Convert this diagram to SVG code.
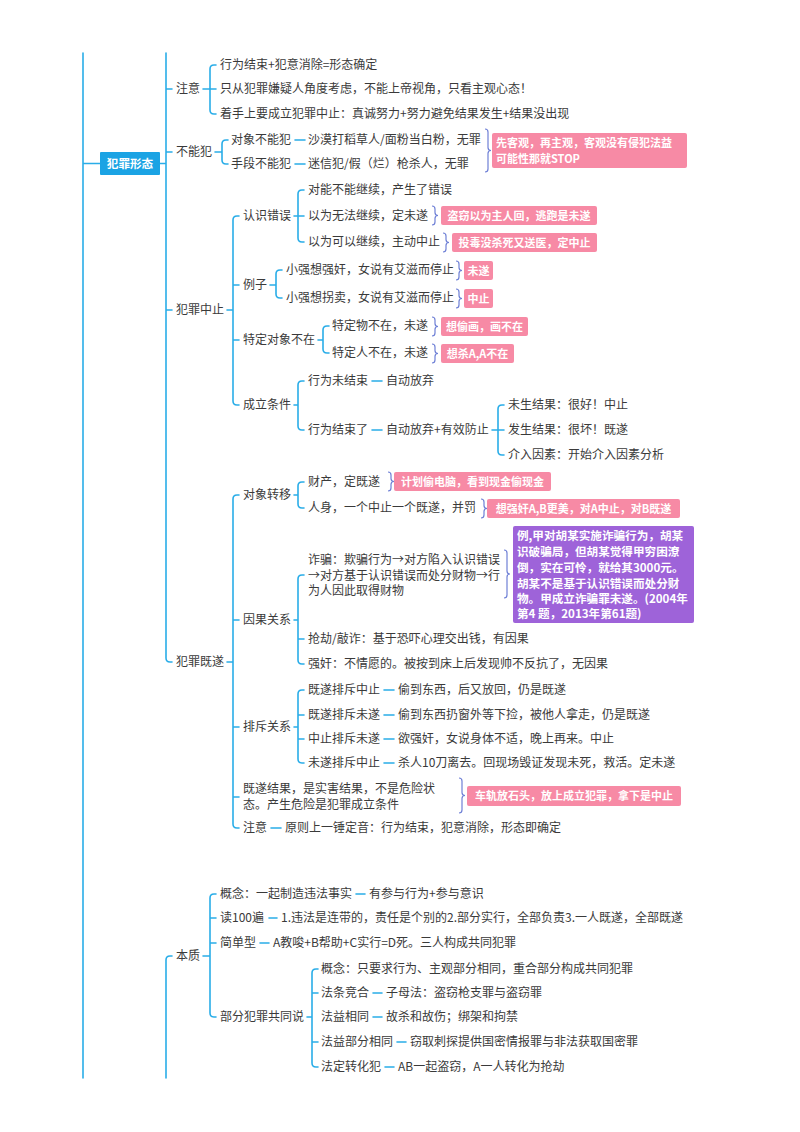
<svg xmlns="http://www.w3.org/2000/svg" width="800" height="1132" viewBox="0 0 800 1132">
<style>
.t{font-family:"Noto Sans CJK SC","Noto Sans",sans-serif;font-size:12px;fill:#3a3a3a}
.w{font-family:"Noto Sans CJK SC","Noto Sans",sans-serif;font-size:11px;font-weight:bold;fill:#fff}
.wv{font-family:"Noto Sans CJK SC","Noto Sans",sans-serif;font-size:11.6px;font-weight:bold;fill:#fff}
.c{fill:none;stroke:#2AADE8;stroke-width:1.6;stroke-linecap:round}
.b{fill:none;stroke:#6F80D6;stroke-width:1.2}
.p{fill:#F78AA5}
.v{fill:#9E63D9}
</style>
<rect width="800" height="1132" fill="#fff"/>
<g id="connectors">
<path class="c" d="M83,53V1078 M83,163.5H100"/>
<path class="c" d="M160,163.5H166 M166,53V658Q166,662 170,662H172 M166,89H172 M166,152H172 M166,310H172"/>
<path class="c" d="M203,89H210 M216,65H214Q210,65 210,69V110Q210,114 214,114H216 M210,89H216"/>
<path class="c" d="M215,152H222 M228,140H226Q222,140 222,144V160Q222,164 226,164H228 M295,140H305 M295,164H305"/>
<path class="c" d="M227,310H233 M239,216H237Q233,216 233,220V401Q233,405 237,405H239 M233,285H239 M233,340H239"/>
<path class="c" d="M294,216H298 M304,190H302Q298,190 298,194V238Q298,242 302,242H304 M298,216H304"/>
<path class="c" d="M270,285H276 M282,270H280Q276,270 276,274V294Q276,298 280,298H282"/>
<path class="c" d="M318,340H323 M329,326H327Q323,326 323,330V349Q323,353 327,353H329"/>
<path class="c" d="M294,405H298 M304,381H302Q298,381 298,385V426Q298,430 302,430H304 M372,381H382 M372,430H382"/>
<path class="c" d="M492,430H498 M504,405H502Q498,405 498,409V451Q498,455 502,455H504 M498,430H504"/>
<path class="c" d="M227,662H233 M239,495H237Q233,495 233,499V824Q233,828 237,828H239 M233,620H239 M233,727H239 M233,797H239"/>
<path class="c" d="M294,495H298 M304,482H302Q298,482 298,486V504Q298,508 302,508H304"/>
<path class="c" d="M294,620H298 M304,575H302Q298,575 298,579V660Q298,664 302,664H304 M298,639H304"/>
<path class="c" d="M294,727H298 M304,690H302Q298,690 298,694V759Q298,763 302,763H304 M298,715H304 M298,739H304 M384,690H394 M384,715H394 M384,739H394 M384,763H394"/>
<path class="c" d="M271,828H281"/>
<path class="c" d="M172,956H170Q166,956 166,960V1078"/>
<path class="c" d="M203,956H210 M216,894H214Q210,894 210,898V1013Q210,1017 214,1017H216 M210,918H216 M210,943H216 M356,894H365 M269,918H277 M260,943H269"/>
<path class="c" d="M307,1017H312 M318,969H316Q312,969 312,973V1063Q312,1067 316,1067H318 M312,993H318 M312,1042H318 M373,993H382 M373,1017H382 M397,1042H406 M385,1067H394"/>
<path class="b" d="M485,129Q488,129 488,132V147.5Q488,150.5 491,150.5Q488,150.5 488,153.5V169Q488,172 485,172"/>
<path class="b" d="M432,206Q435,206 435,209V212.5Q435,215.5 438,215.5Q435,215.5 435,218.5V222Q435,225 432,225"/>
<path class="b" d="M443,233Q446,233 446,236V239.5Q446,242.5 449,242.5Q446,242.5 446,245.5V249Q446,252 443,252"/>
<path class="b" d="M456,261Q459,261 459,264V267.5Q459,270.5 462,270.5Q459,270.5 459,273.5V277Q459,280 456,280"/>
<path class="b" d="M456,289Q459,289 459,292V295.5Q459,298.5 462,298.5Q459,298.5 459,301.5V305Q459,308 456,308"/>
<path class="b" d="M432,317Q435,317 435,320V323.5Q435,326.5 438,326.5Q435,326.5 435,329.5V333Q435,336 432,336"/>
<path class="b" d="M432,344Q435,344 435,347V350.5Q435,353.5 438,353.5Q435,353.5 435,356.5V360Q435,363 432,363"/>
<path class="b" d="M388,472Q391,472 391,475V478.5Q391,481.5 394,481.5Q391,481.5 391,484.5V488Q391,491 388,491"/>
<path class="b" d="M481,499Q484,499 484,502V505.5Q484,508.5 487,508.5Q484,508.5 484,511.5V515Q484,518 481,518"/>
<path class="b" d="M504,550Q507,550 507,553V571Q507,574 510,574Q507,574 507,577V595Q507,598 504,598"/>
<path class="b" d="M459,778Q462,778 462,781V792.5Q462,795.5 465,795.5Q462,795.5 462,798.5V810Q462,813 459,813"/>
</g>
<g id="root"><rect x="100" y="152" width="60" height="23" rx="1" fill="#1BA3E4"/><text class="wv" x="130" y="168" text-anchor="middle">犯罪形态</text></g>
<g id="n-zhuyi"><text class="t" x="176" y="93">注意</text></g>
<g id="n-zy1"><text class="t" x="220" y="69">行为结束+犯意消除=形态确定</text></g>
<g id="n-zy2"><text class="t" x="220" y="93">只从犯罪嫌疑人角度考虑，不能上帝视角，只看主观心态！</text></g>
<g id="n-zy3"><text class="t" x="220" y="118">着手上要成立犯罪中止：真诚努力+努力避免结果发生+结果没出现</text></g>
<g id="n-bnf"><text class="t" x="176" y="156">不能犯</text></g>
<g id="n-dx"><text class="t" x="231" y="144">对象不能犯</text></g>
<g id="n-dx2"><text class="t" x="308" y="144">沙漠打稻草人/面粉当白粉，无罪</text></g>
<g id="n-sd"><text class="t" x="231" y="168">手段不能犯</text></g>
<g id="n-sd2"><text class="t" x="308" y="168">迷信犯/假（烂）枪杀人，无罪</text></g>
<g id="note-stop"><rect class="p" x="492" y="133" width="195" height="35" rx="2"/><text class="w" x="496" y="147">先客观，再主观，客观没有侵犯法益</text><text class="w" x="496" y="163">可能性那就STOP</text></g>
<g id="n-zz"><text class="t" x="176" y="314">犯罪中止</text></g>
<g id="n-rscw"><text class="t" x="243" y="220">认识错误</text></g>
<g id="n-rs1"><text class="t" x="308" y="194">对能不能继续，产生了错误</text></g>
<g id="n-rs2"><text class="t" x="308" y="220">以为无法继续，定未遂</text></g>
<g id="note-rs2"><rect class="p" x="441" y="206" width="156" height="19" rx="2"/><text class="w" x="519" y="219.5" text-anchor="middle">盗窃以为主人回，逃跑是未遂</text></g>
<g id="n-rs3"><text class="t" x="308" y="246">以为可以继续，主动中止</text></g>
<g id="note-rs3"><rect class="p" x="452" y="233" width="145" height="19" rx="2"/><text class="w" x="524.5" y="246.5" text-anchor="middle">投毒没杀死又送医，定中止</text></g>
<g id="n-lz"><text class="t" x="243" y="289">例子</text></g>
<g id="n-lz1"><text class="t" x="286" y="274">小强想强奸，女说有艾滋而停止</text></g>
<g id="note-lz1"><rect class="p" x="464" y="261" width="29" height="19" rx="2"/><text class="w" x="478.5" y="274.5" text-anchor="middle">未遂</text></g>
<g id="n-lz2"><text class="t" x="286" y="302">小强想拐卖，女说有艾滋而停止</text></g>
<g id="note-lz2"><rect class="p" x="464" y="289" width="29" height="19" rx="2"/><text class="w" x="478.5" y="302.5" text-anchor="middle">中止</text></g>
<g id="n-tdbz"><text class="t" x="243" y="344">特定对象不在</text></g>
<g id="n-td1"><text class="t" x="332" y="330">特定物不在，未遂</text></g>
<g id="note-td1"><rect class="p" x="441" y="317" width="87" height="19" rx="2"/><text class="w" x="484.5" y="330.5" text-anchor="middle">想偷画，画不在</text></g>
<g id="n-td2"><text class="t" x="332" y="357">特定人不在，未遂</text></g>
<g id="note-td2"><rect class="p" x="441" y="344" width="73" height="19" rx="2"/><text class="w" x="477.5" y="357.5" text-anchor="middle">想杀A,A不在</text></g>
<g id="n-cltj"><text class="t" x="243" y="409">成立条件</text></g>
<g id="n-wjs"><text class="t" x="308" y="385">行为未结束</text></g>
<g id="n-wjs2"><text class="t" x="386" y="385">自动放弃</text></g>
<g id="n-js"><text class="t" x="308" y="434">行为结束了</text></g>
<g id="n-js2"><text class="t" x="386" y="434">自动放弃+有效防止</text></g>
<g id="n-js3"><text class="t" x="508" y="409">未生结果：很好！中止</text></g>
<g id="n-js4"><text class="t" x="508" y="434">发生结果：很坏！既遂</text></g>
<g id="n-js5"><text class="t" x="508" y="459">介入因素：开始介入因素分析</text></g>
<g id="n-jisui"><text class="t" x="176" y="666">犯罪既遂</text></g>
<g id="n-dxzy"><text class="t" x="243" y="499">对象转移</text></g>
<g id="n-cc"><text class="t" x="308" y="486">财产，定既遂</text></g>
<g id="note-cc"><rect class="p" x="394" y="472" width="157" height="19" rx="2"/><text class="w" x="472.5" y="485.5" text-anchor="middle">计划偷电脑，看到现金偷现金</text></g>
<g id="n-rsh"><text class="t" x="308" y="512">人身，一个中止一个既遂，并罚</text></g>
<g id="note-rsh"><rect class="p" x="487" y="499" width="193" height="19" rx="2"/><text class="w" x="583.5" y="512.5" text-anchor="middle">想强奸A,B更美，对A中止，对B既遂</text></g>
<g id="n-ygh"><text class="t" x="243" y="624">因果关系</text></g>
<g id="n-zp"><text class="t" x="308" y="564">诈骗：欺骗行为→对方陷入认识错误</text><text class="t" x="308" y="580">→对方基于认识错误而处分财物→行</text><text class="t" x="308" y="595">为人因此取得财物</text></g>
<g id="note-zp"><rect class="v" x="513" y="526" width="181" height="97" rx="2"/><text class="wv" x="517" y="539.5">例,甲对胡某实施诈骗行为，胡某</text><text class="wv" x="517" y="555.5">识破骗局，但胡某觉得甲穷困潦</text><text class="wv" x="517" y="571.5">倒，实在可怜，就给其3000元。</text><text class="wv" x="517" y="587.5">胡某不是基于认识错误而处分财</text><text class="wv" x="517" y="603">物。甲成立诈骗罪未遂。(2004年</text><text class="wv" x="517" y="618">第4 题，2013年第61题)</text></g>
<g id="n-qj"><text class="t" x="308" y="643">抢劫/敲诈：基于恐吓心理交出钱，有因果</text></g>
<g id="n-qjian"><text class="t" x="308" y="668">强奸：不情愿的。被按到床上后发现帅不反抗了，无因果</text></g>
<g id="n-pc"><text class="t" x="243" y="731">排斥关系</text></g>
<g id="n-pc1"><text class="t" x="308" y="694">既遂排斥中止</text><text class="t" x="398" y="694">偷到东西，后又放回，仍是既遂</text></g>
<g id="n-pc2"><text class="t" x="308" y="719">既遂排斥未遂</text><text class="t" x="398" y="719">偷到东西扔窗外等下捡，被他人拿走，仍是既遂</text></g>
<g id="n-pc3"><text class="t" x="308" y="743">中止排斥未遂</text><text class="t" x="398" y="743">欲强奸，女说身体不适，晚上再来。中止</text></g>
<g id="n-pc4"><text class="t" x="308" y="767">未遂排斥中止</text><text class="t" x="398" y="767">杀人10刀离去。回现场毁证发现未死，救活。定未遂</text></g>
<g id="n-jsjg"><text class="t" x="243" y="793">既遂结果，是实害结果，不是危险状</text><text class="t" x="243" y="809">态。产生危险是犯罪成立条件</text></g>
<g id="note-jsjg"><rect class="p" x="467" y="786" width="214" height="20" rx="2"/><text class="w" x="574" y="800" text-anchor="middle">车轨放石头，放上成立犯罪，拿下是中止</text></g>
<g id="n-zy-b"><text class="t" x="243" y="832">注意</text><text class="t" x="285" y="832">原则上一锤定音：行为结束，犯意消除，形态即确定</text></g>
<g id="n-bz"><text class="t" x="176" y="960">本质</text></g>
<g id="n-bz1"><text class="t" x="220" y="898">概念：一起制造违法事实</text><text class="t" x="369" y="898">有参与行为+参与意识</text></g>
<g id="n-bz2"><text class="t" x="220" y="922">读100遍</text><text class="t" x="281" y="922">1.违法是连带的，责任是个别的2.部分实行，全部负责3.一人既遂，全部既遂</text></g>
<g id="n-bz3"><text class="t" x="220" y="947">简单型</text><text class="t" x="273" y="947">A教唆+B帮助+C实行=D死。三人构成共同犯罪</text></g>
<g id="n-bfgt"><text class="t" x="220" y="1021">部分犯罪共同说</text></g>
<g id="n-bf1"><text class="t" x="321" y="973">概念：只要求行为、主观部分相同，重合部分构成共同犯罪</text></g>
<g id="n-bf2"><text class="t" x="321" y="997">法条竞合</text><text class="t" x="386" y="997">子母法：盗窃枪支罪与盗窃罪</text></g>
<g id="n-bf3"><text class="t" x="321" y="1021">法益相同</text><text class="t" x="386" y="1021">故杀和故伤；绑架和拘禁</text></g>
<g id="n-bf4"><text class="t" x="321" y="1046">法益部分相同</text><text class="t" x="410" y="1046">窃取刺探提供国密情报罪与非法获取国密罪</text></g>
<g id="n-bf5"><text class="t" x="321" y="1071">法定转化犯</text><text class="t" x="398" y="1071">AB一起盗窃，A一人转化为抢劫</text></g>
</svg>
